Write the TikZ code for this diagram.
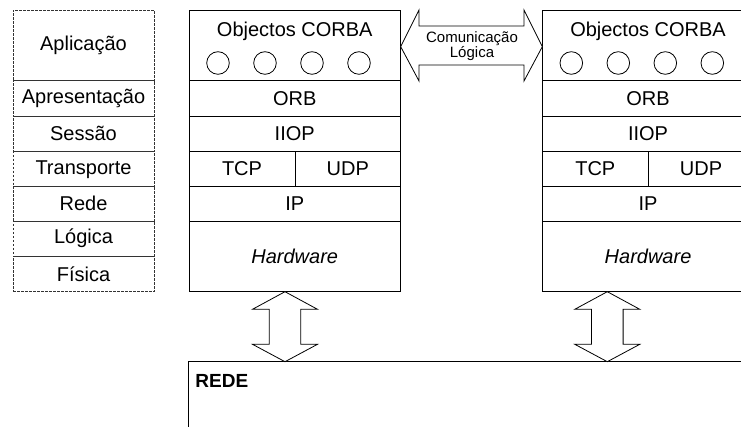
\documentclass[tikz,border=0pt]{standalone}
\usepackage{fontspec}
\setmainfont{Liberation Sans}
\usetikzlibrary{positioning,calc}

\tikzset{
  osi/.style={draw=black!80, dash pattern=on 2.5pt off 1.5pt, rectangle, inner sep=0pt,
    outer sep=0pt, minimum width=141pt, font=\fontsize{20}{24}\selectfont},
  camada/.style={draw, rectangle, inner sep=0pt, outer sep=0pt, minimum width=211.5pt,
    font=\fontsize{20}{24}\selectfont},
  objecto/.style={draw, circle, inner sep=0pt, minimum size=22.6pt},
  seta/.style={draw, fill=white},
}

\begin{document}
\begin{tikzpicture}[x=1pt, y=-1pt, line width=0.8pt]
    \useasboundingbox (0,0) rectangle (741,427);
    \clip (0,0) rectangle (741,427);
% modelo OSI
\node[osi, minimum height=70.7pt, anchor=north west] (osiAplic) at (13,10) {Aplicação};
\node[osi, minimum height=35.3pt, below=0pt of osiAplic] (osiApres) {Apresentação};
\node[osi, minimum height=35.7pt, below=0pt of osiApres] (osiSessao) {Sessão};
\node[osi, minimum height=35pt, below=0pt of osiSessao] (osiTransp) {Transporte};
\node[osi, minimum height=34.3pt, below=0pt of osiTransp] (osiRede) {Rede};
\node[osi, minimum height=35pt, below=0pt of osiRede] (osiLogica) {Lógica};
\node[osi, minimum height=35.7pt, below=0pt of osiLogica] (osiFisica) {Física};
% pilha A
\node[camada, minimum height=70.7pt, anchor=north west] (corbaA) at (189,10) {};
\node[inner sep=0pt, font=\fontsize{20}{24}\selectfont, below=11.5pt of corbaA.north] (corbaAtxt) {Objectos CORBA};
\foreach \i/\cx in {1/29,2/76,3/123,4/170}
  \node[objecto] (objA\i) at ($(corbaA.north west)+(\cx,53)$) {};
\node[camada, minimum height=35.3pt, below=0pt of corbaA] (orbA) {ORB};
\node[camada, minimum height=35.3pt, below=0pt of orbA] (iiopA) {IIOP};
\node[camada, minimum width=106pt, minimum height=35.4pt, anchor=north west] (tcpA) at (iiopA.south west) {TCP};
\node[camada, minimum width=105.5pt, minimum height=35.4pt, anchor=north west] (udpA) at (tcpA.north east) {UDP};
\node[camada, minimum height=34.3pt, anchor=north west] (ipA) at (tcpA.south west) {IP};
\node[camada, minimum height=70.7pt, below=0pt of ipA] (hwA) {\textit{Hardware}};
% pilha B
\node[camada, minimum height=70.7pt, anchor=north west] (corbaB) at (542.3,10) {};
\node[inner sep=0pt, font=\fontsize{20}{24}\selectfont, below=11.5pt of corbaB.north] (corbaBtxt) {Objectos CORBA};
\foreach \i/\cx in {1/29,2/76,3/123,4/170}
  \node[objecto] (objB\i) at ($(corbaB.north west)+(\cx,53)$) {};
\node[camada, minimum height=35.3pt, below=0pt of corbaB] (orbB) {ORB};
\node[camada, minimum height=35.3pt, below=0pt of orbB] (iiopB) {IIOP};
\node[camada, minimum width=106pt, minimum height=35.4pt, anchor=north west] (tcpB) at (iiopB.south west) {TCP};
\node[camada, minimum width=105.5pt, minimum height=35.4pt, anchor=north west] (udpB) at (tcpB.north east) {UDP};
\node[camada, minimum height=34.3pt, anchor=north west] (ipB) at (tcpB.south west) {IP};
\node[camada, minimum height=70.7pt, below=0pt of ipB] (hwB) {\textit{Hardware}};
% comunicacao logica
\draw[seta] (400.7,46.7) -- (419,10) -- (419,26) -- (524,26) -- (524,10) -- (542.3,46.7)
  -- (524,81) -- (524,65) -- (419,65) -- (419,81) -- cycle;
\node[align=center, inner sep=0pt, font=\fontsize{15}{15.6}\selectfont] (comLog) at (472,46) {Comunicação\\Lógica};
% rede
\node[draw, rectangle, inner sep=0pt, outer sep=0pt, minimum width=600pt, minimum height=100pt, anchor=north west] (redeNet) at (188,361.7) {};
\node[inner sep=0pt, anchor=west, font=\fontsize{19}{22}\selectfont\bfseries] (redeTxt) at (195,380.5) {REDE};
\foreach \cx in {285,607.3}
  \draw[seta] (\cx,291.7) -- (\cx+32.5,309.3) -- (\cx+15.8,309.3) -- (\cx+15.8,344.3)
    -- (\cx+32.5,344.3) -- (\cx,361.7) -- (\cx-32.5,344.3) -- (\cx-15.8,344.3)
    -- (\cx-15.8,309.3) -- (\cx-32.5,309.3) -- cycle;
\end{tikzpicture}
\end{document}
